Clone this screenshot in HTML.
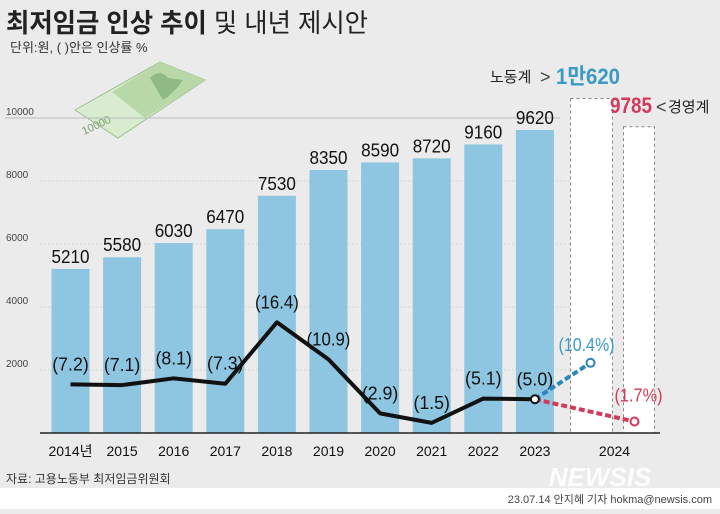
<!DOCTYPE html>
<html><head><meta charset="utf-8"><style>
body{margin:0;width:720px;height:509px;overflow:hidden;background:#ebebeb;font-family:"Liberation Sans","Noto Sans CJK KR",sans-serif}
</style></head><body>
<svg width="720" height="509" xmlns="http://www.w3.org/2000/svg" font-family="Liberation Sans, Noto Sans CJK KR, sans-serif">
<rect x="0" y="488" width="720" height="21" fill="#fff"/>
<text x="6" y="32" font-size="26" font-weight="bold" fill="#222" textLength="362" lengthAdjust="spacingAndGlyphs">최저임금 인상 추이 <tspan font-weight="normal">및 내년 제시안</tspan></text>
<text x="10" y="52" font-size="13" fill="#333">단위:원, ( )안은 인상률 %</text>
<g>
<polygon points="75,110 160,62 205,80 118,138" fill="#d9ecd0" stroke="#9bbf8e"/>
<polygon points="112,92 160,62 205,80 145,118" fill="#b8d8a8"/>
<path d="M150,78 q10,-10 18,0 l15,2 q-8,12 -20,20 z" fill="#8fba85"/>
<text x="84" y="135" font-size="11" fill="#7aa070" transform="rotate(-25 84 135)">10000</text>
</g>
<g id="grid"></g>
<g id="bars"></g>
<g id="labels"></g>
<line x1="40" y1="433" x2="660" y2="433" stroke="#222" stroke-width="1.5"/>
<g id="line"></g>
<text x="490" y="82" font-size="15" fill="#222">노동계</text>
<text x="540" y="83" font-size="18" fill="#444">&gt;</text>
<text x="556" y="84" font-size="22" font-weight="bold" fill="#3a9ac4" textLength="64" lengthAdjust="spacingAndGlyphs">1만620</text>
<text x="610" y="113" font-size="22" font-weight="bold" fill="#d23a5a" textLength="42" lengthAdjust="spacingAndGlyphs">9785</text>
<text x="656" y="113" font-size="18" fill="#444">&lt;</text>
<text x="668" y="112" font-size="15" fill="#222">경영계</text>
<text x="6" y="483" font-size="12" fill="#333">자료: 고용노동부 최저임금위원회</text>
<text x="600" y="486" font-size="26" font-weight="bold" font-style="italic" fill="#fff" text-anchor="middle" opacity="0.9">NEWSIS</text>
<text x="712" y="503" font-size="11" fill="#444" text-anchor="end">23.07.14 안지혜 기자 hokma@newsis.com</text>
<script>
const years=["2014년","2015","2016","2017","2018","2019","2020","2021","2022","2023"];
const wages=[5210,5580,6030,6470,7530,8350,8590,8720,9160,9620];
const rates=[7.2,7.1,8.1,7.3,16.4,10.9,2.9,1.5,5.1,5.0];
const ticks=[2000,4000,6000,8000,10000];
const laborWage=10620, employerWage=9785, laborRate=10.4, employerRate=1.7;
const NS="http://www.w3.org/2000/svg";
const y=v=>433-v*0.0315;
const yr=r=>433-r*6.75;
const xc=i=>70.5+i*51.6;
function mk(t,a,p){const e=document.createElementNS(NS,t);for(const k in a)e.setAttribute(k,a[k]);p.appendChild(e);return e;}
const grid=document.getElementById('grid'),bars=document.getElementById('bars'),labels=document.getElementById('labels'),line=document.getElementById('line');
ticks.forEach(t=>{
 const l=mk('line',{x1:t===10000?5:40,x2:t===10000?560:660,y1:y(t),y2:y(t),stroke:t===10000?'#bbb':'#d4d4d4','stroke-dasharray':t===10000?'':'2,2'},grid);
 
 
 const tx=mk('text',{x:6,y:y(t)-3,'font-size':10,fill:'#444'},grid);tx.textContent=t;
 
 
});
wages.forEach((w,i)=>{
 const r=mk('rect',{x:xc(i)-19,y:y(w),width:38,height:433-y(w),fill:'#8ec6e2'},bars);
 
 
 const t=mk('text',{x:xc(i),y:y(w)-6,'font-size':18,'text-anchor':'middle',fill:'#111',textLength:38,lengthAdjust:'spacingAndGlyphs'},labels);t.textContent=w;
 
 
 const xl=mk('text',{x:xc(i),y:456,'font-size':14,'text-anchor':'middle',fill:'#111'},labels);xl.textContent=years[i];
 
 
 const s='('+rates[i].toFixed(1)+')';
 const rl=mk('text',{x:xc(i),y:yr(rates[i])-14,'font-size':18,'text-anchor':'middle',fill:'#111',textLength:s.length*7.3,lengthAdjust:'spacingAndGlyphs'},labels);rl.textContent=s;
 
 
});
const lx=xc(10)+4, ex=xc(10)+48;
const lb=mk('rect',{x:lx-20,y:y(laborWage),width:42,height:433-y(laborWage),fill:'#fff',stroke:'#888','stroke-dasharray':'3,3'},bars);


const eb=mk('rect',{x:ex-11,y:y(employerWage)+2,width:31,height:433-y(employerWage)-2,fill:'#fff',stroke:'#888','stroke-dasharray':'3,3'},bars);


const x24=mk('text',{x:(lx+ex)/2+2,y:456,'font-size':14,'text-anchor':'middle',fill:'#111'},labels);x24.textContent='2024';


const pts=rates.map((r,i)=>xc(i)+','+yr(r)).join(' ');
const pl=mk('polyline',{points:pts,fill:'none',stroke:'#111','stroke-width':4,'stroke-linejoin':'round'},line);


const x0=xc(9),y0=yr(rates[9]);
const ld=mk('line',{x1:x0,y1:y0,x2:lx,y2:yr(laborRate),stroke:'#2b86c0','stroke-width':4,'stroke-dasharray':'6,3'},line);


const ed=mk('line',{x1:x0,y1:y0,x2:ex,y2:yr(employerRate),stroke:'#d23a5a','stroke-width':4,'stroke-dasharray':'6,3'},line);


[[x0,y0,'#111'],[lx,yr(laborRate),'#2b86c0'],[ex,yr(employerRate),'#d23a5a']].forEach(p=>{
 const c=mk('circle',{cx:p[0],cy:p[1],r:4,fill:'#fff',stroke:p[2],'stroke-width':2},line);
 
 
});
const lt=mk('text',{x:lx-4,y:yr(laborRate)-12,'font-size':18,'text-anchor':'middle',fill:'#3a9ac4',textLength:56,lengthAdjust:'spacingAndGlyphs'},labels);lt.textContent='('+laborRate+'%)';


const et=mk('text',{x:ex+4,y:yr(employerRate)-20,'font-size':18,'text-anchor':'middle',fill:'#d23a5a',textLength:48,lengthAdjust:'spacingAndGlyphs'},labels);et.textContent='('+employerRate+'%)';


</script>
</svg>
</body></html>
